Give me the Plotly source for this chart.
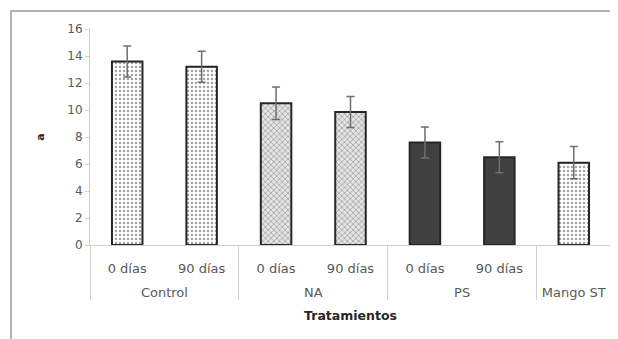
import plotly.graph_objects as go

groups = ["Control", "Control", "NA", "NA", "PS", "PS", "Mango ST"]
subs = ["0 días", "90 días", "0 días", "90 días", "0 días", "90 días", " "]
values = [13.6, 13.2, 10.5, 9.85, 7.6, 6.5, 6.1]
errors = [1.15, 1.15, 1.2, 1.15, 1.15, 1.15, 1.2]

shapes_pat = [".", ".", "x", "x", "", "", "."]
bgcols = ["white", "white", "#e4e4e4", "#e4e4e4", "#404040", "#404040", "white"]
fgcols = ["#cccccc", "#cccccc", "#7a7a7a", "#7a7a7a", "#404040", "#404040", "#b4b4b4"]

font = "DejaVu Sans, Arial, sans-serif"
sub_labels = [s + "<br><span style='font-size:18px'> </span>" for s in subs]

fig = go.Figure(go.Bar(
    x=[groups, sub_labels],
    y=values,
    width=0.41,
    marker=dict(
        color=bgcols,
        line=dict(color="#262626", width=2),
        pattern=dict(shape=shapes_pat, bgcolor=bgcols, fgcolor=fgcols,
                     size=4, solidity=0.3),
    ),
    error_y=dict(type="data", array=errors, visible=True,
                 color="#6e6e6e", thickness=1.5, width=4),
))

fig.update_layout(
    width=610, height=331,
    margin=dict(l=82, r=7, t=21, b=94),
    paper_bgcolor="white", plot_bgcolor="white",
    showlegend=False,
    font=dict(family=font, size=12, color="#595959"),
    xaxis=dict(
        type="multicategory", automargin=False,
        showline=True, linecolor="#d0d0d0", linewidth=1,
        showdividers=True, dividercolor="#d0d0d0", dividerwidth=1,
        ticks="", tickfont=dict(size=13, color="#595959"),
        ticklabelstandoff=11,
        title=dict(text="<b>Tratamientos</b>", font=dict(size=12.5, color="#262626"), standoff=12),
    ),
    yaxis=dict(
        range=[0, 16], dtick=2, showgrid=False, zeroline=False, automargin=False,
        showline=True, linecolor="#d0d0d0", linewidth=1,
        ticks="outside", ticklen=4, tickcolor="#d0d0d0",
        tickfont=dict(size=12, color="#595959"),
        title=dict(text="<b>a</b>", font=dict(size=11, color="#262626"), standoff=20),
    ),
    shapes=[dict(type="rect", xref="paper", yref="paper",
                 x0=-0.1516, x1=1.05, y0=-0.6, y1=1.0833,
                 line=dict(color="#9a9a9a", width=1.5), layer="below")],
)

fig.write_html("out.html")
